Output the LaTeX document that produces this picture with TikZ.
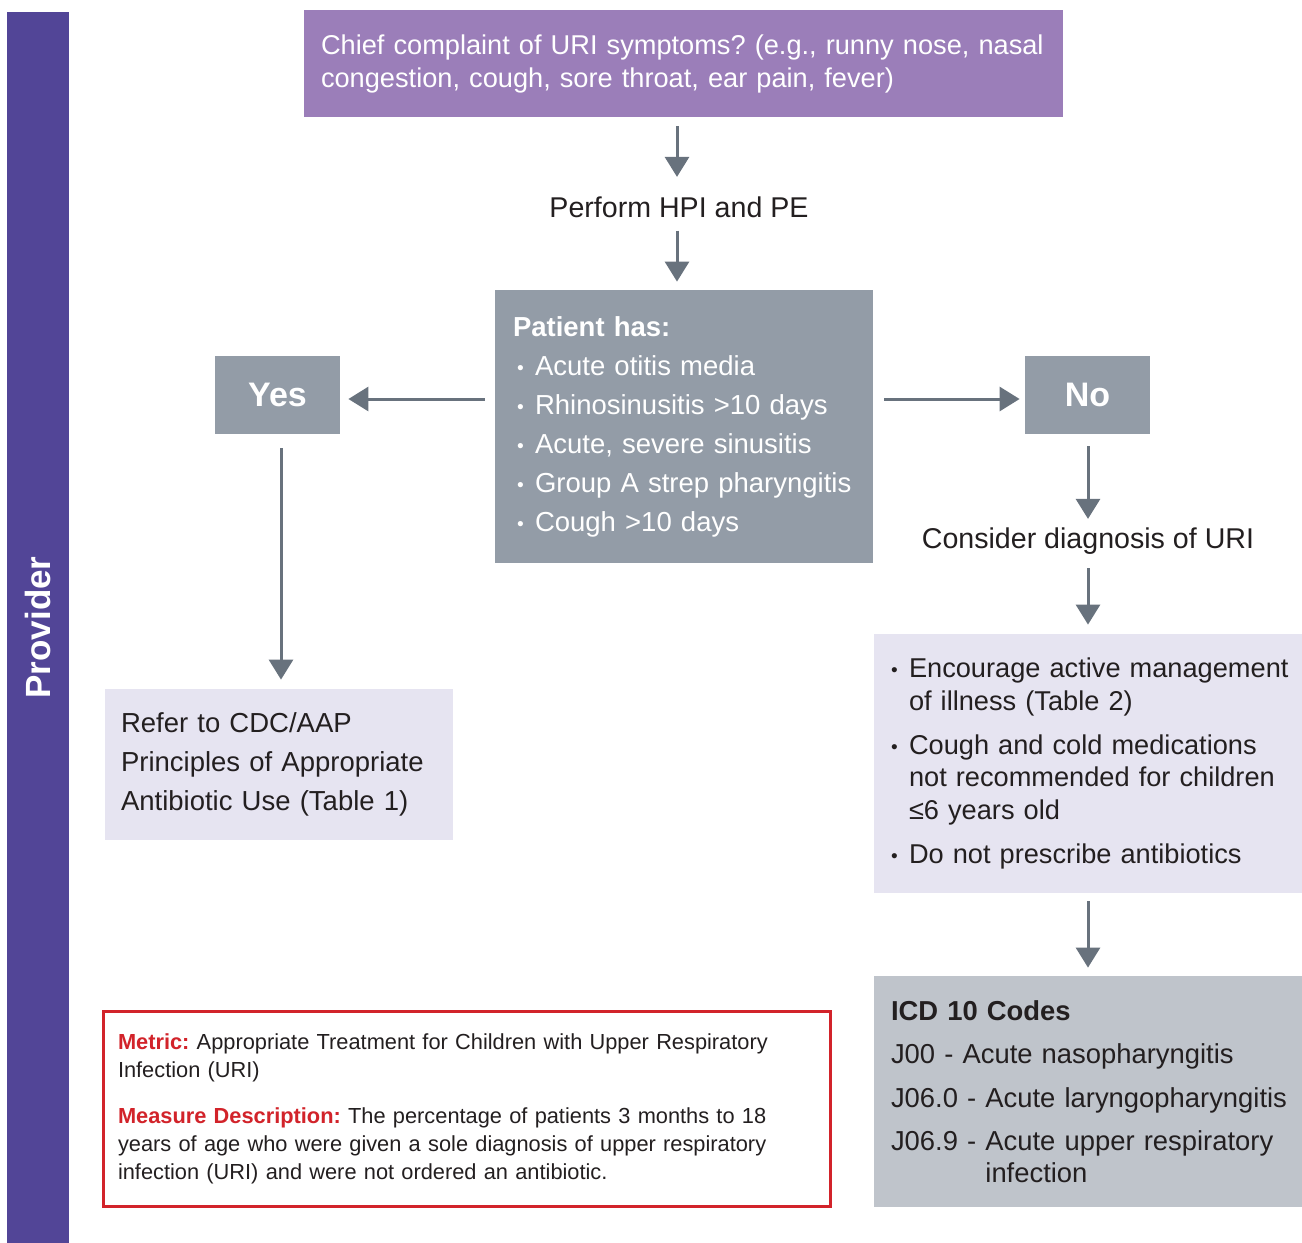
\documentclass[tikz,border=0pt]{standalone}
\usepackage{fontspec}
\usepackage{graphicx}
\setmainfont{Liberation Sans}
\usetikzlibrary{arrows.meta,calc}
\definecolor{provc}{HTML}{524597}
\definecolor{topc}{HTML}{9B7EB9}
\definecolor{greyc}{HTML}{939CA7}
\definecolor{lavc}{HTML}{E6E4F1}
\definecolor{icdc}{HTML}{BFC4CB}
\definecolor{arrc}{HTML}{68727D}
\definecolor{redc}{HTML}{D2232A}
\definecolor{txtc}{HTML}{231F20}
\newlength\px \setlength\px{0.5pt}
\newcommand\bul{\makebox[18\px][l]{\raisebox{0.03em}{\scalebox{0.7}{\textbullet}}}}
\newcommand\oneline[1]{\mbox{#1}}
\frenchspacing
\begin{document}
\begin{tikzpicture}[x=0.5pt,y=-0.5pt,
  box/.style={inner ysep=0pt, align=left, anchor=center},
  plain/.style={inner sep=0pt, anchor=base, text=txtc, font=\fontsize{14.3}{16.5}\selectfont},
  arr/.style={draw=arrc, line width=1.5pt, -{Triangle[width=12pt,length=10pt]}},
  decision/.style={fill=greyc, text=white, minimum width=62.5pt, minimum height=39pt, inner sep=0pt, font=\bfseries\fontsize{17}{20}\selectfont}
]
\useasboundingbox (0,0) rectangle (1302,1243);

% lane bar
\node[fill=provc, rotate=90, minimum width=615.5pt, minimum height=31pt, inner sep=0pt,
      text=white, font=\bfseries\fontsize{17.5}{20}\selectfont] (prov) at (38,627.5) {Provider};

% top box
\node[box, fill=topc, text=white, minimum width=379.5pt, minimum height=53.5pt, inner xsep=8.5pt,
      text width=362.5pt, font=\fontsize{13.6}{16.5}\selectfont] (top) at (683.5,63.5)
 {\oneline{Chief complaint of URI symptoms? (e.g., runny nose, nasal}\\
  \oneline{congestion, cough, sore throat, ear pain, fever)}};

\node[plain] (hpi) at (679,217) {Perform HPI and PE};

% patient box
\node[box, fill=greyc, text=white, minimum width=189pt, minimum height=136.5pt, inner xsep=9pt,
      text width=171pt, font=\fontsize{13.75}{19.5}\selectfont] (pat) at (684,426.5)
 {\textbf{Patient has:}\\
  \oneline{\hspace*{4\px}\bul Acute otitis media}\\
  \oneline{\hspace*{4\px}\bul Rhinosinusitis >10 days}\\
  \oneline{\hspace*{4\px}\bul Acute, severe sinusitis}\\
  \oneline{\hspace*{4\px}\bul Group A strep pharyngitis}\\
  \oneline{\hspace*{4\px}\bul Cough >10 days}};

\node[decision] (yes) at (277.5,395) {Yes};
\node[decision] (no) at (1087.5,395) {No};

% refer box
\node[box, fill=lavc, text=txtc, minimum width=174pt, minimum height=75.5pt, inner xsep=8pt,
      text width=158pt, font=\fontsize{13.75}{19.5}\selectfont] (refer) at (279,764.5)
 {\oneline{Refer to CDC/AAP}\\
  \oneline{Principles of Appropriate}\\
  \oneline{Antibiotic Use (Table 1)}};

\node[plain] (cons) at (1088,548) {Consider diagnosis of URI};

% management box
\node[box, fill=lavc, text=txtc, minimum width=214pt, minimum height=129.5pt, inner xsep=8.5pt,
      text width=197pt, font=\fontsize{13.6}{16.25}\selectfont] (mgmt) at (1088,763.5)
 {\oneline{\bul Encourage active management}\\
  \oneline{\hspace*{18\px}of illness (Table 2)}\\[5.75pt]
  \oneline{\bul Cough and cold medications}\\
  \oneline{\hspace*{18\px}not recommended for children}\\
  \oneline{\hspace*{18\px}≤6 years old}\\[5.75pt]
  \oneline{\bul Do not prescribe antibiotics}};

% ICD box
\node[box, fill=icdc, text=txtc, minimum width=214pt, minimum height=115.5pt, inner xsep=8.5pt,
      text width=197pt, font=\fontsize{13.7}{16}\selectfont] (icd) at (1088,1091.5)
 {\oneline{\textbf{ICD 10 Codes}}\\[5.75pt]
  \oneline{J00 - Acute nasopharyngitis}\\[5.75pt]
  \oneline{J06.0 - Acute laryngopharyngitis}\\[5.75pt]
  \oneline{J06.9 - Acute upper respiratory}\\
  \oneline{\hphantom{J06.9 - }infection}};

% metric box
\node[box, draw=redc, line width=1.5pt, fill=white, text=txtc, minimum width=363.5pt, minimum height=97.5pt,
      inner xsep=7.5pt, text width=348.5pt, font=\fontsize{10.9}{14}\selectfont] (metric) at (466.5,1108.5)
 {\oneline{{\color{redc}\textbf{Metric:}} Appropriate Treatment for Children with Upper Respiratory}\\
  \oneline{Infection (URI)}\\[9pt]
  \oneline{{\color{redc}\textbf{Measure Description:}} The percentage of patients 3 months to 18}\\
  \oneline{years of age who were given a sole diagnosis of upper respiratory}\\
  \oneline{infection (URI) and were not ordered an antibiotic.}};

% connectors
\coordinate (ax) at (677,0);
\coordinate (ya) at (281,0);
\coordinate (ha) at (0,399);
\draw[arr, shorten <=4.5pt, shorten >=9.5pt] (top.south -| ax) -- (hpi.north -| ax);
\draw[arr, shorten <=6.5pt, shorten >=4pt] (hpi.south -| ax) -- (pat.north -| ax);
\draw[arr, shorten <=5pt, shorten >=4pt] (pat.west |- ha) -- (yes.east |- ha);
\draw[arr, shorten <=5.5pt, shorten >=2.5pt] (pat.east |- ha) -- (no.west |- ha);
\draw[arr, shorten <=7pt, shorten >=4.5pt] (yes.south -| ya) -- (refer.north -| ya);
\draw[arr, shorten <=6pt, shorten >=4pt] (no.south -| cons.north) -- (cons.north);
\draw[arr, shorten <=7pt, shorten >=4.5pt] (cons.south) -- (mgmt.north -| cons.south);
\draw[arr, shorten <=4pt, shorten >=4pt] (mgmt.south) -- (icd.north);
\end{tikzpicture}
\end{document}
